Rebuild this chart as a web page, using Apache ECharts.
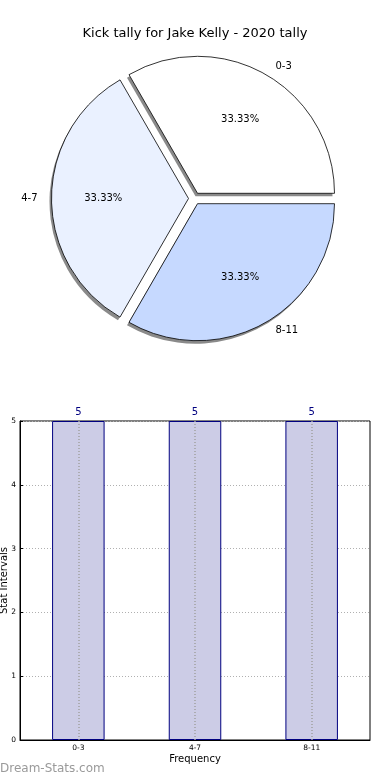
<!DOCTYPE html>
<html><head><meta charset="utf-8">
<script src="https://cdn.jsdelivr.net/npm/echarts@6/dist/echarts.min.js"></script>
<style>html,body{margin:0;padding:0;background:#fff}#c{width:390px;height:780px}</style>
</head><body><div id="c"></div>
<script>
const titleText = 'Kick tally for Jake Kelly - 2020 tally';
const categories = ['0-3', '4-7', '8-11'];
const pieValues = [5, 5, 5];
const pieColors = ['#ffffff', '#eaf1ff', '#c6d9ff'];
const barValues = [5, 5, 5];
const yTicks = [0, 1, 2, 3, 4, 5];
const xName = 'Frequency';
const yName = 'Stat Intervals';
const watermark = 'Dream-Stats.com';

const F = 'DejaVu Sans';
const total = pieValues.reduce((a, b) => a + b, 0);
const chart = echarts.init(document.getElementById('c'), null, {renderer: 'canvas'});
const pieData = categories.map((c, i) => ({name: c, value: pieValues[i], selected: true, itemStyle: {color: pieColors[i]}}));
const plainData = categories.map((c, i) => ({name: c, value: pieValues[i], selected: true}));
const CX = 194.5, CY = 198.5, R = 137;

chart.setOption({
  animation: false,
  backgroundColor: '#fff',
  title: {text: titleText, left: 'center', top: 22, textStyle: {fontFamily: F, fontSize: 13, fontWeight: 'normal', color: '#000'}},
  graphic: [{type: 'text', left: 0, top: 763, style: {text: watermark, fill: '#9a9a9a', font: '12px "DejaVu Sans"'}}],
  grid: {left: 20, right: 20, top: 421, height: 319, outerBoundsMode: 'none', containLabel: false, show: true, borderColor: '#000', borderWidth: 1, backgroundColor: 'transparent'},
  xAxis: {
    type: 'category', data: categories,
    name: xName, nameLocation: 'middle', nameGap: 14,
    nameTextStyle: {fontFamily: F, fontSize: 10, color: '#000'},
    axisLine: {lineStyle: {color: '#000'}},
    axisTick: {show: false},
    axisLabel: {fontFamily: F, fontSize: 7.5, color: '#000', margin: 4},
    splitLine: {show: false}
  },
  yAxis: {
    type: 'value', min: yTicks[0], max: yTicks[yTicks.length - 1], interval: 1,
    name: yName, nameLocation: 'middle', nameGap: 11, nameMoveOverlap: false,
    nameTextStyle: {fontFamily: F, fontSize: 10, color: '#000'},
    axisLine: {show: true, lineStyle: {color: '#000'}},
    axisTick: {show: true, inside: true, length: 3, lineStyle: {color: '#000'}},
    axisLabel: {fontFamily: F, fontSize: 7.5, color: '#000', margin: 4},
    splitLine: {show: true, lineStyle: {color: '#b0b0b0', type: [1, 2], width: 1}}
  },
  series: [
    {
      type: 'pie', center: [CX - 2, CY + 3], radius: R, startAngle: 0, clockwise: false,
      selectedMode: 'multiple', selectedOffset: 6, silent: true, z: 1,
      data: plainData,
      itemStyle: {color: '#8a8a8a', borderWidth: 0},
      label: {show: false}, labelLine: {show: false},
      emphasis: {disabled: true}
    },
    {
      type: 'pie', center: [CX, CY], radius: R, startAngle: 0, clockwise: false,
      selectedMode: 'multiple', selectedOffset: 6, silent: true, z: 2,
      data: pieData,
      itemStyle: {borderColor: '#000', borderWidth: 0.8},
      label: {show: true, position: 'outside', formatter: '{b}', fontFamily: F, fontSize: 10, color: '#000'},
      labelLine: {show: false, length: 9, length2: 0},
      emphasis: {disabled: true}
    },
    {
      type: 'pie', center: [CX, CY], radius: R * 1.2, startAngle: 0, clockwise: false,
      selectedMode: 'multiple', selectedOffset: 6, silent: true, z: 3,
      data: plainData,
      itemStyle: {color: 'transparent', borderWidth: 0},
      label: {show: true, position: 'inside', formatter: (p) => (p.value / total * 100).toFixed(2) + '%', fontFamily: F, fontSize: 10, color: '#000'},
      labelLine: {show: false},
      emphasis: {disabled: true}
    },
    {
      type: 'bar', data: barValues, barWidth: '45%',
      itemStyle: {color: '#ccccE6', borderColor: '#000080', borderWidth: 1},
      label: {show: true, position: 'top', distance: 4, fontFamily: F, fontSize: 10, color: '#000080'},
      markLine: {
        silent: true, symbol: 'none', label: {show: false},
        lineStyle: {color: '#a0a0a0', type: [1, 2], width: 1.5},
        data: categories.map(c => ({xAxis: c}))
      },
      emphasis: {disabled: true}
    }
  ]
});
</script></body></html>
